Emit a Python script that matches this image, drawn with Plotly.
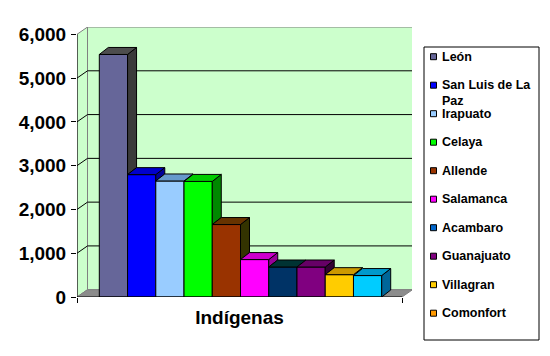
import plotly.graph_objects as go

# ---------------- data ----------------
categories = ["León", "San Luis de La Paz", "Irapuato", "Celaya", "Allende",
              "Salamanca", "Acambaro", "Guanajuato", "Villagran", "Comonfort"]
legend_labels = ["León", "San Luis de La<br>Paz", "Irapuato", "Celaya", "Allende",
                 "Salamanca", "Acambaro", "Guanajuato", "Villagran", "Comonfort"]
values = [5540, 2795, 2650, 2640, 1655, 855, 685, 685, 510, 490]
group_label = "Indígenas"
y_ticks = [0, 1000, 2000, 3000, 4000, 5000, 6000]

front_colors = ["#666699", "#0000FF", "#99CCFF", "#00FF00", "#993300",
                "#FF00FF", "#003366", "#800080", "#FFCC00", "#00CCFF"]
top_colors = ["#4D4D4D", "#0000CC", "#6699CC", "#00CC00", "#663300",
              "#CC00CC", "#003333", "#660066", "#CC9900", "#0099CC"]
side_colors = ["#3A3A3A", "#000099", "#336699", "#008800", "#333300",
               "#990099", "#002233", "#330033", "#996600", "#006699"]
legend_colors = ["#666699", "#0000FF", "#99CCFF", "#00FF00", "#993300",
                 "#FF00FF", "#0066CC", "#800080", "#FFCC00", "#FF9900"]

# ---------------- geometry ----------------
OFF = 8                     # page body margin of the browser
W, H = 550 - OFF, 356 - OFF
L_M, T_M = 77 - OFF, 27 - OFF
B_M = 356 - 297
R_M = 550 - 412
plot_w = W - L_M - R_M
plot_h = H - T_M - B_M
PX_X = 28.24            # pixels per bar-width unit
PX_Y = 43.78 / 1000.0   # pixels per value unit
X0 = -1.29              # front-left edge of the floor
XF = 10.22              # front-right edge of the floor
x_range = [X0, X0 + plot_w / PX_X]
y_top = plot_h / PX_Y
WDX, WDY = 10.5 / PX_X, 7.3 / PX_Y    # wall depth
BDX, BDY = 9.0 / PX_X, 7.0 / PX_Y     # bar depth
BW = 1.0

FONT = "Liberation Sans, Arial, sans-serif"


def xp(px):
    return (px - OFF - L_M) / plot_w


def yp(py):
    return (H - B_M - (py - OFF)) / plot_h


def path(pts):
    return "M " + " L ".join(f"{x},{y}" for x, y in pts) + " Z"


fig = go.Figure()

shapes = []
# back wall
shapes.append(dict(type="path", xref="x", yref="y", layer="below",
                   path=path([(X0 + WDX, WDY), (XF + WDX, WDY),
                              (XF + WDX, 6000 + WDY), (X0 + WDX, 6000 + WDY)]),
                   fillcolor="#CCFFCC", line=dict(color="#808080", width=1)))
# side wall
shapes.append(dict(type="path", xref="x", yref="y", layer="below",
                   path=path([(X0, 0), (X0 + WDX, WDY),
                              (X0 + WDX, 6000 + WDY), (X0, 6000)]),
                   fillcolor="#CCFFCC", line=dict(color="#808080", width=1)))
# floor
shapes.append(dict(type="path", xref="x", yref="y", layer="below",
                   path=path([(X0, 0), (XF, 0), (XF + WDX, WDY), (X0 + WDX, WDY)]),
                   fillcolor="#8C8C8C", line=dict(color="#808080", width=1)))
# gridlines
for v in y_ticks[1:-1]:
    shapes.append(dict(type="line", xref="x", yref="y", layer="below",
                       x0=X0 + WDX, x1=XF + WDX, y0=v + WDY, y1=v + WDY,
                       line=dict(color="black", width=1)))
    shapes.append(dict(type="line", xref="x", yref="y", layer="below",
                       x0=X0, x1=X0 + WDX, y0=v, y1=v + WDY,
                       line=dict(color="black", width=1)))
# front axes lines
shapes.append(dict(type="line", xref="x", yref="y", layer="above",
                   x0=X0, x1=X0, y0=0, y1=6000, line=dict(color="black", width=1)))
shapes.append(dict(type="line", xref="x", yref="y", layer="above",
                   x0=X0, x1=XF, y0=0, y1=0, line=dict(color="black", width=1)))

# ---------------- bars ----------------
n = len(values)
positions = list(range(n))
for i in range(n):
    fig.add_trace(go.Bar(x=[positions[i]], y=[values[i]], width=BW,
                         marker=dict(color=front_colors[i], line=dict(color="black", width=1)),
                         name=categories[i], showlegend=False, hoverinfo="name+y"))

for i in range(n):
    v = values[i]
    left = positions[i] - BW / 2
    right = positions[i] + BW / 2
    bottom = values[i + 1] if i < n - 1 else 0
    if v > bottom:
        sx = [right, right + BDX, right + BDX, right, right]
        sy = [bottom, bottom + BDY, v + BDY, v, bottom]
        fig.add_trace(go.Scatter(x=sx, y=sy, mode="lines", fill="toself",
                                 fillcolor=side_colors[i],
                                 line=dict(color="black", width=1),
                                 showlegend=False, hoverinfo="skip"))
    tx = [left, right, right + BDX, left + BDX, left]
    ty = [v, v, v + BDY, v + BDY, v]
    fig.add_trace(go.Scatter(x=tx, y=ty, mode="lines", fill="toself",
                             fillcolor=top_colors[i],
                             line=dict(color="black", width=1),
                             showlegend=False, hoverinfo="skip"))

# ---------------- legend (drawn) ----------------
annotations = []
LEG_L, LEG_T, LEG_R, LEG_B = 424, 47, 539, 340
shapes.append(dict(type="rect", xref="paper", yref="paper",
                   x0=xp(LEG_L), x1=xp(LEG_R), y0=yp(LEG_B), y1=yp(LEG_T),
                   line=dict(color="black", width=1), fillcolor="white", layer="above"))
for i, lab in enumerate(legend_labels):
    cy = 56.7 + 28.5 * i
    shapes.append(dict(type="rect", xref="paper", yref="paper",
                       x0=xp(430.5), x1=xp(436.5), y0=yp(cy + 3), y1=yp(cy - 3),
                       line=dict(color="black", width=1), fillcolor=legend_colors[i],
                       layer="above"))
    nlines = lab.count("<br>") + 1
    annotations.append(dict(xref="paper", yref="paper", x=xp(440),
                            y=yp(cy + (nlines - 1) * 8.2), text=lab,
                            xanchor="left", yanchor="middle", showarrow=False,
                            align="left",
                            font=dict(family=FONT, size=12.5, color="black", weight="bold")))

fig.update_layout(
    width=W, height=H,
    margin=dict(l=L_M, r=R_M, t=T_M, b=B_M, pad=0),
    paper_bgcolor="white", plot_bgcolor="white",
    barmode="overlay",
    showlegend=False,
    shapes=shapes,
    annotations=annotations,
    xaxis=dict(range=x_range, showgrid=False, zeroline=False, showline=False,
               tickvals=[(X0 + XF) / 2], ticktext=[group_label], ticks="",
               ticklabelstandoff=7,
               tickfont=dict(family=FONT, size=19, color="black", weight="bold"),
               minor=dict(tickvals=[X0, XF], ticks="outside", ticklen=5,
                          tickcolor="black", tickwidth=1, showgrid=False)),
    yaxis=dict(range=[0, y_top], showgrid=False, zeroline=False, showline=False,
               tickvals=y_ticks, tickformat=",d", ticks="outside", ticklen=5,
               tickcolor="black", tickwidth=1, ticklabelstandoff=1,
               tickfont=dict(family=FONT, size=19, color="black", weight="bold")),
)

fig.write_html("out.html")
